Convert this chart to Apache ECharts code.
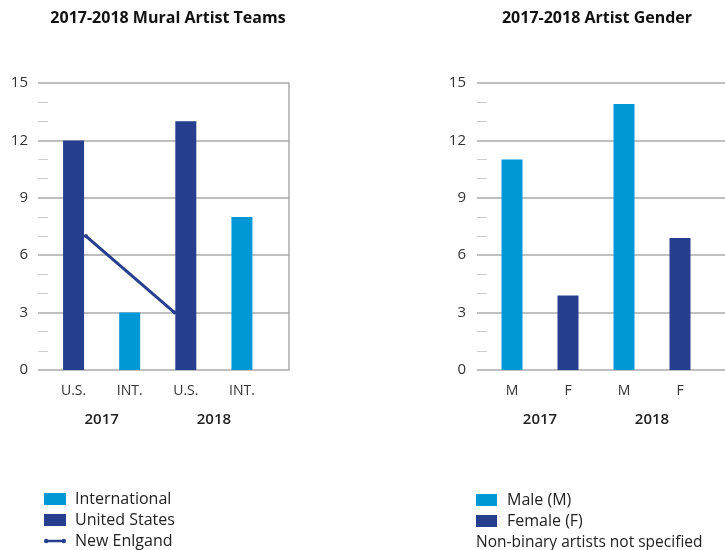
<!DOCTYPE html>
<html>
<head>
<meta charset="utf-8">
<script src="https://cdn.jsdelivr.net/npm/echarts@6/dist/echarts.min.js"></script>
<style>
  html, body { margin: 0; padding: 0; background: #fff; }
  #chart { width: 725px; height: 550px; }
</style>
</head>
<body>
<div id="chart"></div>
<script>
// data
const teamCategories = ['U.S.', 'INT.', 'U.S.', 'INT.']
const genderCategories = ['M', 'F', 'M', 'F']
const yearLabels = ['2017', '2018']
const unitedStates = [12, '-', 13, '-']
const international = ['-', 3, '-', 8]
// New England points: [position along the 4 category slots, value]
const newEngland = [[0.72, 7], [2.3, 3]]
const male = [11, '-', 13.9, '-']
const female = ['-', 3.9, '-', 6.9]
const yTicks = { min: 0, max: 15, interval: 3 }

const LIGHT = '#0097d7'
const DARK = '#253e8e'
const GRID_COLOR = '#aaaaaa'
const FONT = '"Open Sans", "Noto Sans", sans-serif'

const chart = echarts.init(document.getElementById('chart'))

const backgroundY = (gridIndex, margin) => ({
  gridIndex,
  type: 'value',
  min: yTicks.min,
  max: yTicks.max,
  interval: yTicks.interval,
  axisLine: { show: false },
  axisTick: { show: false, inside: true },
  minorTick: { show: true, splitNumber: 3, length: 10, lineStyle: { color: '#cccccc', width: 1 } },
  axisLabel: { margin, fontSize: 15, color: '#333', fontFamily: FONT },
  splitLine: { lineStyle: { color: GRID_COLOR, width: 1.5 } }
})

const hiddenY = (gridIndex) => ({
  gridIndex, type: 'value', min: yTicks.min, max: yTicks.max, show: false
})

const catX = (gridIndex, data) => ({
  gridIndex,
  type: 'category',
  data,
  axisLine: { show: false },
  axisTick: { show: false },
  axisLabel: { margin: 14, fontSize: 14, color: '#333', fontFamily: FONT }
})

const yearX = (gridIndex) => ({
  gridIndex,
  type: 'category',
  data: yearLabels,
  position: 'bottom',
  offset: 28,
  axisLine: { show: false },
  axisTick: { show: false },
  axisLabel: { margin: 14, fontSize: 15, fontWeight: 600, color: '#222', fontFamily: FONT }
})

const titleStyle = { fontSize: 16, fontWeight: 'bold', color: '#111', fontFamily: FONT }
const legendText = (gap) => ({ fontSize: 16, color: '#222', fontFamily: FONT, padding: [0, 0, 0, gap] })

const option = {
  animation: false,
  title: [
    { text: '2017-2018 Mural Artist Teams', left: 163, top: 5, textAlign: 'center', textStyle: titleStyle },
    { text: '2017-2018 Artist Gender', left: 592, top: 5, textAlign: 'center', textStyle: titleStyle },
    { text: 'Non-binary artists not specified', left: 476, top: 535, padding: 0,
      textStyle: { fontSize: 15.5, fontWeight: 'normal', color: '#222', fontFamily: FONT } }
  ],
  legend: [
    {
      orient: 'vertical', left: 44, top: 491, height: 80, padding: 0,
      itemWidth: 22, itemHeight: 12, itemGap: 5, textStyle: legendText(4),
      data: [
        { name: 'International', icon: 'rect' },
        { name: 'United States', icon: 'rect' },
        { name: 'New Enlgand', icon: 'path://M0,0M22,12M2,4.8L20,4.8L20,7.2L2,7.2Z M0,6A2.2,2.2 0 1 1 4.4,6A2.2,2.2 0 1 1 0,6Z M17.6,6A2.2,2.2 0 1 1 22,6A2.2,2.2 0 1 1 17.6,6Z' }
      ]
    },
    {
      orient: 'vertical', left: 476, top: 492, height: 80, padding: 0,
      itemWidth: 21, itemHeight: 12, itemGap: 5, textStyle: legendText(5),
      data: [
        { name: 'Male (M)', icon: 'rect' },
        { name: 'Female (F)', icon: 'rect' }
      ]
    }
  ],
  grid: [
    // 0: left background (gridlines, y labels)
    { left: 38, right: 436, top: 83, bottom: 180 },
    // 1: left bars
    { left: 45.5, right: 455, top: 83, bottom: 180 },
    // 2: right background
    { left: 477, right: 0, top: 83, bottom: 180 },
    // 3: right bars
    { left: 484, right: 17, top: 83, bottom: 180 }
  ],
  xAxis: [
    { gridIndex: 0, type: 'value', min: 0, max: 1, show: false },
    catX(1, teamCategories),
    yearX(1),
    { gridIndex: 1, type: 'value', min: 0, max: teamCategories.length, show: false },
    { gridIndex: 2, type: 'value', min: 0, max: 1, show: false },
    catX(3, genderCategories),
    yearX(3)
  ],
  yAxis: [
    backgroundY(0, 10),
    // right border of left chart
    { gridIndex: 0, type: 'value', position: 'right', min: yTicks.min, max: yTicks.max,
      axisLine: { show: true, lineStyle: { color: GRID_COLOR, width: 1.5 } },
      axisTick: { show: false }, axisLabel: { show: false }, splitLine: { show: false } },
    hiddenY(1),
    backgroundY(2, 11),
    hiddenY(3)
  ],
  series: [
    { name: 'United States', type: 'bar', xAxisIndex: 1, yAxisIndex: 2, data: unitedStates,
      barWidth: 21, barGap: '-100%', itemStyle: { color: DARK } },
    { name: 'International', type: 'bar', xAxisIndex: 1, yAxisIndex: 2, data: international,
      barWidth: 21, barGap: '-100%', itemStyle: { color: LIGHT } },
    { name: 'New Enlgand', type: 'line', xAxisIndex: 3, yAxisIndex: 2, data: newEngland,
      symbol: 'circle', symbolSize: 4, z: 5,
      lineStyle: { color: DARK, width: 3 }, itemStyle: { color: DARK } },
    { name: 'Male (M)', type: 'bar', xAxisIndex: 5, yAxisIndex: 4, data: male,
      barWidth: 21, barGap: '-100%', itemStyle: { color: LIGHT } },
    { name: 'Female (F)', type: 'bar', xAxisIndex: 5, yAxisIndex: 4, data: female,
      barWidth: 21, barGap: '-100%', itemStyle: { color: DARK } }
  ]
}

chart.setOption(option)
window.addEventListener('resize', () => chart.resize())
</script>
</body>
</html>
